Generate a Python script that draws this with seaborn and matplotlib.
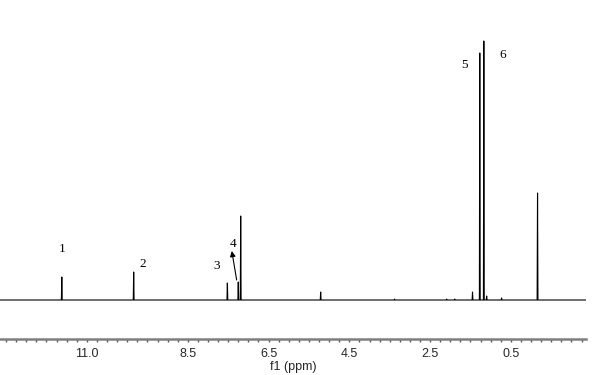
import numpy as np
import pandas as pd
import matplotlib
matplotlib.use("Agg")
import matplotlib.pyplot as plt
import seaborn as sns

# peak list (shift in ppm, height in arbitrary units)
shifts = [11.62, 9.84, 7.52, 7.25, 7.19, 5.21, 3.38, 2.09, 1.89, 1.45, 1.27, 1.17, 1.10, 0.73, -0.16]
heights = [23, 28, 17, 18, 84, 8, 1, 1, 1, 8, 247, 259, 4, 2, 107]

tick_labels = ["11.0", "8.5", "6.5", "4.5", "2.5", "0.5"]
tick_values = [11.0, 8.5, 6.5, 4.5, 2.5, 0.5]

peak_ids = ["1", "2", "3", "4", "5", "6"]
id_x = [11.62, 9.61, 7.78, 7.39, 1.64, 0.70]
id_y = [51, 36, 34, 56, 235, 245]

x_left, x_right = 13.15, -1.36

# stick spectrum path: baseline with a narrow spike at every peak
half_w = 0.01
path_x, path_y = [x_left], [0]
for s, h in sorted(zip(shifts, heights), reverse=True):
    path_x += [s + half_w, s, s - half_w]
    path_y += [0, h, 0]
path_x.append(x_right)
path_y.append(0)
df = pd.DataFrame({"ppm": path_x, "intensity": path_y})

sns.set_theme(style="white")
plt.rcParams["font.family"] = ["Liberation Sans", "DejaVu Sans"]

fig = plt.figure(figsize=(5.93, 3.75), dpi=100)
ax = fig.add_axes([0, 36 / 375, 586 / 593, 339 / 375])

sns.lineplot(data=df, x="ppm", y="intensity", sort=False, color="black",
             linewidth=0.8, ax=ax, legend=False)

ax.set_xlim(x_left, x_right)
ax.set_ylim(-39, 300)

for side in ["left", "top", "right"]:
    ax.spines[side].set_visible(False)
ax.spines["bottom"].set_color("#7f7f7f")
ax.spines["bottom"].set_linewidth(1.8)

ax.set_xticks(tick_values)
ax.set_xticklabels(tick_labels, fontsize=9)
ax.set_xticks(np.arange(-1.25, 13.01, 0.25), minor=True)
ax.tick_params(axis="x", which="both", direction="out", length=2.5, width=1,
               color="#555555", bottom=True, pad=4)
ax.set_yticks([])
ax.set_ylabel("")
ax.set_xlabel("f1 (ppm)", fontsize=9, labelpad=0.5)

for lab, tx, ty in zip(peak_ids, id_x, id_y):
    ax.text(tx, ty, lab, fontsize=9.5, family="Liberation Serif",
            ha="center", va="center", color="black")

ax.annotate("", xy=(7.41, 49), xytext=(7.29, 20),
            arrowprops=dict(arrowstyle="-|>", color="black", lw=0.8,
                            mutation_scale=8, shrinkA=0, shrinkB=0))

fig.savefig("out.png", dpi=100)
